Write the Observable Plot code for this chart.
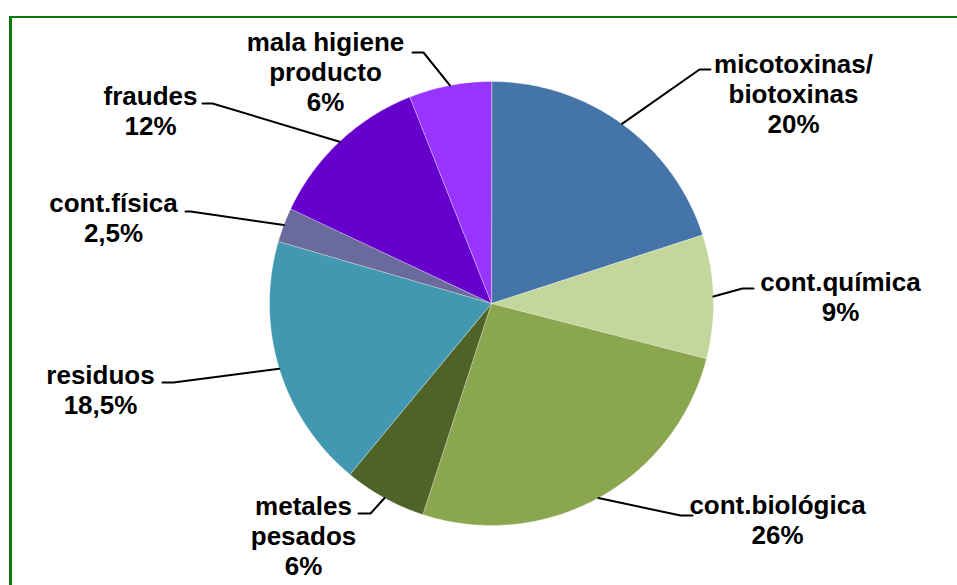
<!DOCTYPE html>
<html><head><meta charset="utf-8">
<script src="https://cdn.jsdelivr.net/npm/d3@7"></script>
<script src="https://cdn.jsdelivr.net/npm/@observablehq/plot@0.6"></script>
<style>
body{margin:0;background:#fff;}
#wrap{position:relative;width:957px;height:585px;overflow:hidden;}
#chart{position:absolute;left:0;top:0;}
#border{position:absolute;left:9px;top:16px;width:960px;height:600px;border-left:3px solid #0C780C;border-top:2px solid #0C780C;pointer-events:none;}
</style></head><body>
<div id="wrap"><div id="chart"></div><div id="border"></div></div>
<script>
// ---- data ----
const categories = ["micotoxinas/\nbiotoxinas", "cont.química", "cont.biológica", "metales\npesados", "residuos", "cont.física", "fraudes", "mala higiene\nproducto"];
const values = [20, 9, 26, 6, 18.5, 2.5, 12, 6];
const valueLabels = ["20%", "9%", "26%", "6%", "18,5%", "2,5%", "12%", "6%"];
const colors = ["#4574A8", "#C3D69B", "#8AA64F", "#4F6228", "#4298B0", "#6A6A9C", "#6600CC", "#9933FF"];

// ---- layout (pixels) ----
const cx = 491, cy = 303, R = 222;
const labelX = [793, 840, 777, 303, 100, 113, 150, 325];
const labelY = [132, 320, 543, 574, 413, 241, 134, 110];
const elbowX = [699, 742, 680, 370, 173, 190, 212, 423];
const elbowY = [69, 288, 515, 513, 382, 211, 103, 52];
const endX = [710, 753, 692, 358, 162, 185, 202, 412];

const arcs = d3.pie().sort(null).value(d => d)(values);
const pt = (a, r) => ({x: cx + r * Math.sin(a), y: cy - r * Math.cos(a)});

const slicePts = [];
arcs.forEach((a, i) => {
  const cat = categories[i];
  slicePts.push({cat, x: cx, y: cy});
  const n = Math.max(2, Math.ceil((a.endAngle - a.startAngle) / (Math.PI / 360)));
  for (let k = 0; k <= n; k++) {
    const ang = a.startAngle + (a.endAngle - a.startAngle) * k / n;
    slicePts.push({cat, ...pt(ang, R)});
  }
});

const leaderPts = [];
arcs.forEach((a, i) => {
  const mid = (a.startAngle + a.endAngle) / 2;
  const p = pt(mid, R);
  leaderPts.push({i, x: p.x, y: p.y});
  leaderPts.push({i, x: elbowX[i], y: elbowY[i]});
  leaderPts.push({i, x: endX[i], y: elbowY[i]});
});

const labels = categories.map((c, i) => ({text: c + "\n" + valueLabels[i], x: labelX[i], y: labelY[i]}));

const chart = Plot.plot({
  width: 957, height: 585, margin: 0,
  style: {background: "transparent"},
  x: {domain: [0, 957], range: [0, 957], axis: null},
  y: {domain: [0, 585], range: [0, 585], axis: null},
  color: {domain: categories, range: colors},
  marks: [
    Plot.line(slicePts, {x: "x", y: "y", z: "cat", fill: "cat", curve: "linear-closed", stroke: "#ffffff", strokeOpacity: 0.5, strokeWidth: 0.7}),
    Plot.line(leaderPts, {x: "x", y: "y", z: "i", stroke: "#000", strokeWidth: 2, curve: "linear"}),
    Plot.text(labels, {x: "x", y: "y", text: "text", fontSize: 26, fontWeight: "bold",
      fontFamily: "'Liberation Sans', Arial, sans-serif", lineAnchor: "bottom", lineHeight: 1.154,
      textAnchor: "middle", fill: "#000"})
  ]
});
document.getElementById("chart").appendChild(chart);
</script>
</body></html>
